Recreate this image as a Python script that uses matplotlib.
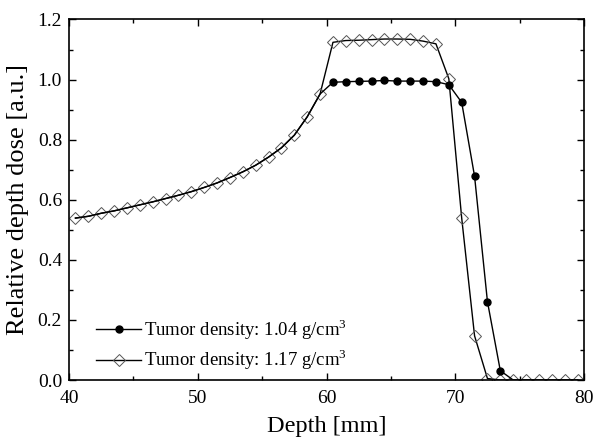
import numpy as np
import matplotlib
matplotlib.use("Agg")
import matplotlib.pyplot as plt
from matplotlib.ticker import MultipleLocator, FormatStrFormatter

plt.rcParams['font.family'] = ['Liberation Serif', 'DejaVu Serif']
plt.rcParams['mathtext.fontset'] = 'custom'
plt.rcParams['mathtext.rm'] = 'Liberation Serif'

# depth positions (mm), one every 1 mm
depth = np.arange(40.5, 80.0, 1.0)

# tumor density 1.17 g/cm3 (open diamonds)
dose_117 = [0.539, 0.545, 0.555, 0.563, 0.573, 0.583, 0.593, 0.604, 0.615, 0.627,
            0.641, 0.656, 0.674, 0.693, 0.715, 0.742, 0.773, 0.815, 0.876, 0.952,
            1.124, 1.130, 1.131, 1.133, 1.135, 1.135, 1.134, 1.128, 1.119, 1.003,
            0.539, 0.147, 0.005, 0.0, 0.0, 0.0, 0.0, 0.0, 0.0, 0.0]

# tumor density 1.04 g/cm3 (filled circles)
dose_104 = [0.539, 0.545, 0.555, 0.563, 0.573, 0.583, 0.593, 0.604, 0.615, 0.627,
            0.641, 0.656, 0.674, 0.693, 0.715, 0.742, 0.773, 0.815, 0.876, 0.952,
            0.991, 0.993, 0.994, 0.995, 0.997, 0.995, 0.995, 0.995, 0.993, 0.983,
            0.924, 0.678, 0.261, 0.031, 0.0, 0.0, 0.0, 0.0, 0.0, 0.0]

labels = ['Tumor density: 1.04 g/cm$^3$', 'Tumor density: 1.17 g/cm$^3$']

fig = plt.figure(figsize=(6.13, 4.44), dpi=100)
ax = fig.add_axes([0.1126, 0.1441, 0.8401, 0.8120])

ax.plot(depth, dose_104, color='black', lw=1.0, marker='o', markersize=5,
        markerfacecolor='black', markeredgecolor='black',
        markevery=list(range(20, 34)), label=labels[0], zorder=3)
ax.plot(depth, dose_117, color='black', lw=1.0, marker='D', markersize=5.8,
        markerfacecolor='none', markeredgecolor='#555555', markeredgewidth=0.7,
        label=labels[1], zorder=2)

ax.set_xlim(40, 80)
ax.set_ylim(0, 1.2)
ax.xaxis.set_major_locator(MultipleLocator(10))
ax.xaxis.set_minor_locator(MultipleLocator(5))
ax.yaxis.set_major_locator(MultipleLocator(0.2))
ax.yaxis.set_minor_locator(MultipleLocator(0.1))
ax.yaxis.set_major_formatter(FormatStrFormatter('%.1f'))
ax.tick_params(which='both', direction='in', top=True, right=True, labelsize=14)
ax.tick_params(which='major', length=5, width=1)
ax.tick_params(which='minor', length=3, width=1)
ax.tick_params(axis='x', pad=7)
ax.tick_params(axis='y', pad=5)
for s in ax.spines.values():
    s.set_linewidth(1.2)

ax.set_xlabel('Depth [mm]', fontsize=17.5, labelpad=7)
ax.set_ylabel('Relative depth dose [a.u.]', fontsize=19, labelpad=6)

ax.legend(loc='lower left', bbox_to_anchor=(0.02, -0.025), frameon=False,
          fontsize=13.5, handlelength=2.4, handletextpad=0.15, labelspacing=0.3)

fig.savefig('out.png', dpi=100)
